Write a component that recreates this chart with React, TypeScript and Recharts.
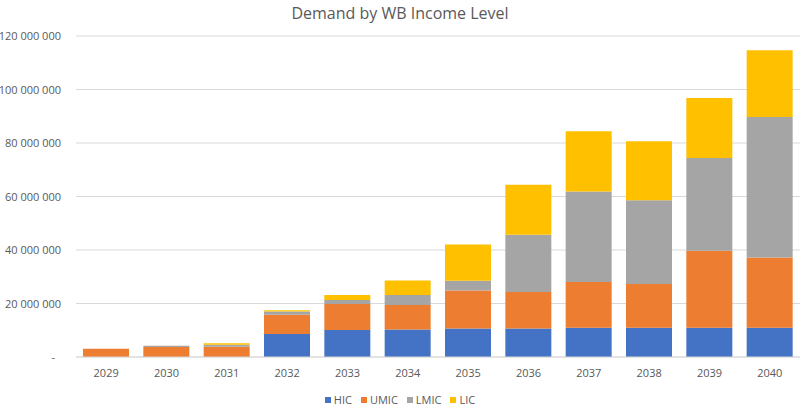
import React from "react";
import { BarChart, Bar, XAxis, YAxis, CartesianGrid, Legend } from "recharts";

const years = ["2029", "2030", "2031", "2032", "2033", "2034", "2035", "2036", "2037", "2038", "2039", "2040"];
const hic = [0, 0, 0, 8600000, 10100000, 10300000, 10700000, 10700000, 10900000, 10900000, 10900000, 10900000];
const umic = [3100000, 3700000, 3850000, 7200000, 9700000, 9100000, 14200000, 13600000, 17100000, 16400000, 28800000, 26300000];
const lmic = [0, 500000, 750000, 1200000, 1500000, 3800000, 3600000, 21400000, 33900000, 31300000, 34700000, 52500000];
const lic = [0, 0, 500000, 500000, 1900000, 5400000, 13600000, 18700000, 22500000, 22100000, 22400000, 25000000];
const yTicks = [0, 20000000, 40000000, 60000000, 80000000, 100000000, 120000000];

const seriesNames = ["HIC", "UMIC", "LMIC", "LIC"];
const seriesKeys = ["hic", "umic", "lmic", "lic"];
const colors = ["#4472C4", "#ED7D31", "#A5A5A5", "#FFC000"];

const data = years.map((y, i) => ({
  year: y,
  hic: hic[i],
  umic: umic[i],
  lmic: lmic[i],
  lic: lic[i],
}));

const FONT = "'Open Sans', sans-serif";
const TEXT = "#595959";

const fmt = (v: number) => {
  if (v === 0) return "-";
  return String(v).replace(/\B(?=(\d{3})+(?!\d))/g, " ");
};

const YTick = (props: any) => {
  const { x, y, payload } = props;
  const v = payload.value;
  return (
    <text
      x={v === 0 ? x - 6 : x}
      y={y}
      dy={4}
      textAnchor="end"
      fill={TEXT}
      fontSize={11}
      fontFamily={FONT}
    >
      {fmt(v)}
    </text>
  );
};

const LegendContent = () => (
  <div
    style={{
      display: "flex",
      justifyContent: "center",
      alignItems: "center",
      height: 12,
      fontFamily: FONT,
      fontSize: 11,
      color: TEXT,
      lineHeight: "12px",
    }}
  >
    {seriesNames.map((n, i) => (
      <div key={n} style={{ display: "flex", alignItems: "center", marginRight: i < 3 ? 9 : 0 }}>
        <span style={{ width: 6, height: 6, background: colors[i], display: "inline-block", marginRight: 3 }} />
        <span>{n}</span>
      </div>
    ))}
  </div>
);

export default function App() {
  return (
    <div style={{ position: "absolute", left: 0, top: 0, width: 800, height: 406, background: "#fff" }}>
      <div
        style={{
          position: "absolute",
          left: 0,
          top: 0,
          width: 800,
          textAlign: "center",
          fontFamily: FONT,
          fontSize: 16,
          lineHeight: "26px",
          color: TEXT,
        }}
      >
        Demand by WB Income Level
      </div>
      <BarChart
        width={800}
        height={406}
        data={data}
        margin={{ top: 36, right: 0, left: 0, bottom: 7 }}
      >
        <CartesianGrid vertical={false} stroke="#D9D9D9" />
        <XAxis
          dataKey="year"
          axisLine={{ stroke: "#D9D9D9" }}
          tickLine={false}
          height={30}
          tick={{ fill: TEXT, fontSize: 11, fontFamily: FONT }}
          tickMargin={6}
        />
        <YAxis
          width={76}
          domain={[0, 120000000]}
          ticks={yTicks}
          axisLine={false}
          tickLine={false}
          tickMargin={9}
          tick={<YTick />}
          interval={0}
        />
        <Legend verticalAlign="bottom" content={<LegendContent />} wrapperStyle={{ bottom: 0 }} />
        {seriesKeys.map((k, i) => (
          <Bar
            key={k}
            dataKey={k}
            name={seriesNames[i]}
            stackId="a"
            fill={colors[i]}
            barSize={46}
            isAnimationActive={false}
          />
        ))}
      </BarChart>
    </div>
  );
}
